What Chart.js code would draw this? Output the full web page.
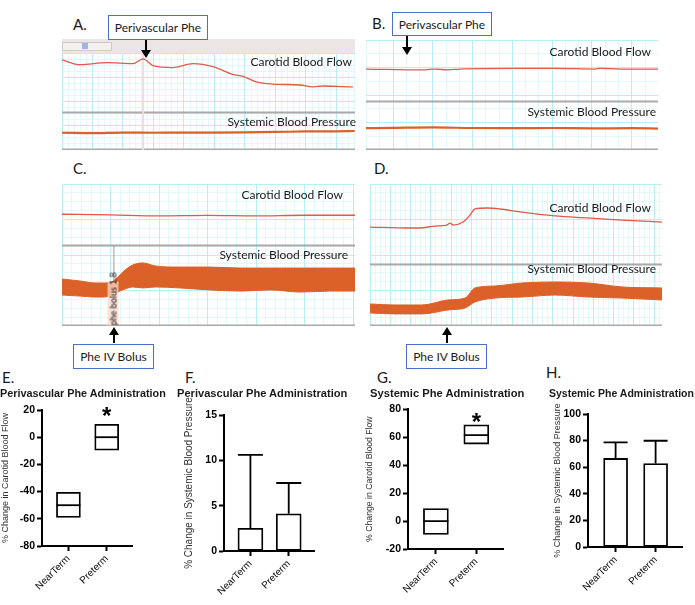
<!DOCTYPE html>
<html>
<head>
<meta charset="utf-8">
<script src="https://cdn.jsdelivr.net/npm/chart.js@4.4.1/dist/chart.umd.min.js"></script>
<style>
  body { margin: 0; background: #fff; }
  #fig { position: relative; width: 695px; height: 605px; overflow: hidden; font-family: Lato, sans-serif; color: #1a1a1a; }
  canvas { position: absolute; }
  .letter { position: absolute; font-size: 15px; line-height: 16px; }
  .trace { position: absolute; font-size: 12px; line-height: 16px; white-space: nowrap; text-align: right; }
  .callout { position: absolute; box-sizing: border-box; border: 1.5px solid #4a72c4; background: #fff; font-size: 12px;
             display: flex; align-items: center; justify-content: center; white-space: nowrap; }
  .title { position: absolute; font-family: "Liberation Sans", Arial, sans-serif; font-weight: bold; line-height: 14px; white-space: nowrap; }
  .bolus { position: absolute; font-size: 9px; line-height: 11px; white-space: nowrap; background: rgba(250,215,200,0.75);
           transform: rotate(-90deg); transform-origin: center center; text-align: center; }
</style>
</head>
<body>
<div id="fig">
  <!-- panel A scroll strip -->
  <div style="position:absolute;left:62px;top:39px;width:293px;height:14px;background:#ebe5e5"></div>
  <div style="position:absolute;left:62px;top:42px;width:48px;height:7px;border:1px solid #cfc9c9;background:#f3f0f0"></div>
  <div style="position:absolute;left:82px;top:43px;width:6px;height:6px;background:#a3b3e6"></div>

  <canvas id="cA" width="293" height="97" style="left:62px;top:53px"></canvas>
  <canvas id="cB" width="292" height="110" style="left:366px;top:40px"></canvas>
  <canvas id="cC" width="293" height="142" style="left:62px;top:184px"></canvas>
  <canvas id="cD" width="292" height="142" style="left:370px;top:184px"></canvas>

  <canvas id="cE" width="175" height="210" style="left:0px;top:395px"></canvas>
  <canvas id="cF" width="167" height="210" style="left:183px;top:395px"></canvas>
  <canvas id="cG" width="156" height="210" style="left:364px;top:395px"></canvas>
  <canvas id="cH" width="143" height="210" style="left:552px;top:395px"></canvas>

  <div class="letter" style="left:73px;top:16px">A.</div>
  <div class="letter" style="left:372px;top:15px">B.</div>
  <div class="letter" style="left:73px;top:160px">C.</div>
  <div class="letter" style="left:374px;top:160px">D.</div>
  <div class="letter" style="left:2px;top:369px">E.</div>
  <div class="letter" style="left:185px;top:369px">F.</div>
  <div class="letter" style="left:377px;top:369px">G.</div>
  <div class="letter" style="left:546px;top:364px">H.</div>

  <div class="trace" style="right:343px;top:54px">Carotid Blood Flow</div>
  <div class="trace" style="right:339px;top:114px">Systemic Blood Pressure</div>
  <div class="trace" style="right:44px;top:44px">Carotid Blood Flow</div>
  <div class="trace" style="right:39px;top:104px">Systemic Blood Pressure</div>
  <div class="trace" style="right:352px;top:187px">Carotid Blood Flow</div>
  <div class="trace" style="right:347px;top:247px">Systemic Blood Pressure</div>
  <div class="trace" style="right:44px;top:200px">Carotid Blood Flow</div>
  <div class="trace" style="right:39px;top:261px">Systemic Blood Pressure</div>

  <div class="callout" style="left:108px;top:15px;width:100px;height:25px">Perivascular Phe</div>
  <div class="callout" style="left:392px;top:12px;width:100px;height:24px">Perivascular Phe</div>
  <div class="callout" style="left:73px;top:344px;width:81px;height:25px">Phe IV Bolus</div>
  <div class="callout" style="left:406px;top:344px;width:81px;height:25px">Phe IV Bolus</div>

  <div class="bolus" style="left:91px;top:298px;width:44px;height:11px">phe bolus 1.8</div>

  <div class="title" style="left:0px;top:386px;font-size:10.8px">Perivascular Phe Administration</div>
  <div class="title" style="left:177px;top:386px;font-size:11.1px">Perivascular Phe Administration</div>
  <div class="title" style="left:370px;top:386px;font-size:11.2px">Systemic Phe Administration</div>
  <div class="title" style="left:549px;top:386px;font-size:10.5px">Systemic Phe Administration</div>

  <svg width="695" height="605" style="position:absolute;left:0;top:0;pointer-events:none">
    <g stroke="#000" stroke-width="2" fill="#000">
      <line x1="146" y1="40" x2="146" y2="50"/><polygon points="141,50 151,50 146,58" stroke="none"/>
      <line x1="407" y1="36" x2="407" y2="47"/><polygon points="402,47 412,47 407,55" stroke="none"/>
      <line x1="114" y1="343" x2="114" y2="335"/><polygon points="109,335 119,335 114,327" stroke="none"/>
      <line x1="447" y1="343" x2="447" y2="335"/><polygon points="442,335 452,335 447,327" stroke="none"/>
    </g>
  </svg>
</div>

<script>
// ---- trace recordings (time in s, signal in % of panel height) ----
const timeA = [0, 5.9, 14.8, 23.3, 26.6, 29.8, 36.4, 43, 49.5, 56, 59.3, 64, 69, 78, 82.3, 85.6, 95.4];
const flowA = [93, 88, 90, 89, 94, 87, 85, 89, 86, 78, 76, 70, 68, 67, 65, 66, 65];
const pressTimeA = [0, 10, 20, 30, 40, 50, 60, 70, 80, 90, 96];
const pressA = [17.8, 17.4, 18.0, 17.8, 18.0, 18.0, 18.2, 18.6, 19.1, 19.3, 19.6];

const timeB = [-6.8, 8, 10.5, 13.8, 16.8, 30.6, 40.7, 50.8, 52, 57, 66.6];
const flowB = [73.6, 72.8, 73.6, 72.8, 73.6, 74.2, 74.2, 73.6, 74.2, 73.6, 73.6];
const pressTimeB = [-6.8, 0, 10, 20, 30, 40, 50, 60, 66.6];
const pressB = [19.8, 20.1, 20.5, 20.0, 19.9, 20.0, 19.7, 19.8, 19.5];

const timeC = [0, 10, 20, 30, 40, 50, 60.4];
const flowC = [78.7, 78.2, 77.5, 77.9, 77.5, 78.0, 78.0];
const pressTimeC = [0, 3.7, 6.8, 8.7, 10.3, 11.5, 13, 14.6, 16.7, 19.2, 24.3, 30.5, 36.7, 42.9, 49.1, 55.3, 60.4];
const pressHighC = [33.1, 31.7, 30.3, 30.3, 31.0, 34.5, 39.4, 43.0, 44.4, 42.3, 41.5, 41.5, 40.8, 40.8, 40.8, 40.8, 40.8];
const pressLowC = [21.8, 21.1, 20.4, 20.4, 21.8, 23.9, 26.1, 27.5, 26.8, 27.5, 26.8, 25.4, 24.6, 25.4, 23.9, 24.6, 24.6];

const timeD = [0, 18.7, 24.6, 32, 37.9, 39.4, 40.9, 45.8, 49.3, 51.7, 57.6, 64, 73.9, 91.1, 107.4, 124.1, 143.8];
const flowD = [69.7, 69.0, 69.0, 70.4, 71.1, 72.5, 71.1, 73.2, 78.2, 82.4, 83.1, 82.4, 80.3, 77.5, 76.1, 74.6, 73.2];
const pressTimeD = [0, 12.3, 25.6, 38.4, 46.8, 51.7, 61.6, 74.9, 91.1, 107.4, 124.1, 143.8];
const pressHighD = [15.5, 14.8, 14.8, 18.3, 19.7, 26.8, 28.2, 30.3, 31.0, 30.3, 27.5, 26.8];
const pressLowD = [9.2, 8.5, 8.5, 11.3, 12.7, 16.9, 19.7, 20.4, 21.8, 20.4, 19.7, 18.3];

// ---- summary data ----
const groups = ['NearTerm', 'Preterm'];
const lowE = [-59, -9.5], highE = [-40.5, 9.5], medE = [-50, 0], starE = [null, 19.5];
const meanF = [2.5, 4.1], errF = [10.6, 7.5];
const lowG = [-9.6, 55.1], highG = [8.9, 68.9], medG = [-0.1, 61.5], starG = [null, 75];
const meanH = [66.6, 62.8], errH = [78.6, 79.9];

const FLOW = '#e0594b', PRESS = '#dc6128', MAJOR = '#b8eef5', MINOR = '#e3f8fb';

const pts = (t, v) => t.map((x, i) => ({ x, y: v[i] }));

const guides = {
  id: 'guides',
  beforeDatasetsDraw(chart, args, o) {
    const { ctx, chartArea: a, scales: { x, y } } = chart;
    ctx.save();
    (o.h || []).forEach(v => {
      const py = Math.round(y.getPixelForValue(v)) + 0.5;
      ctx.strokeStyle = '#a9a9a9'; ctx.lineWidth = 2;
      ctx.beginPath(); ctx.moveTo(a.left, py); ctx.lineTo(a.right, py); ctx.stroke();
    });
    (o.v || []).forEach(m => {
      const px = x.getPixelForValue(m.t);
      ctx.strokeStyle = m.color; ctx.lineWidth = m.width;
      ctx.beginPath(); ctx.moveTo(px, y.getPixelForValue(m.from)); ctx.lineTo(px, y.getPixelForValue(m.to)); ctx.stroke();
    });
    ctx.restore();
  }
};

function gridAxis(axis, min, max, step, color, z) {
  return {
    type: 'linear', axis, min, max, z,
    ticks: { display: false, stepSize: step, includeBounds: false },
    grid: { color, drawTicks: false, lineWidth: 1 },
    border: { display: false },
    afterFit: s => { if (axis === 'x') s.height = 0; else s.width = 0; }
  };
}

function traceChart(id, o) {
  const ds = [];
  ds.push({ data: pts(o.ft, o.flow), borderColor: FLOW, borderWidth: 1.3 });
  if (o.press) ds.push({ data: pts(o.pt, o.press), borderColor: PRESS, borderWidth: 2.2 });
  if (o.hi) {
    ds.push({ data: pts(o.pt, o.hi), borderColor: PRESS, borderWidth: 1, fill: false });
    ds.push({ data: pts(o.pt, o.lo), borderColor: PRESS, borderWidth: 1, fill: '-1', backgroundColor: PRESS });
  }
  ds.forEach(d => { d.pointRadius = 0; d.cubicInterpolationMode = 'monotone'; });
  new Chart(document.getElementById(id), {
    type: 'line',
    data: { datasets: ds },
    options: {
      responsive: false, animation: false, events: [],
      layout: { padding: 0 },
      plugins: { legend: { display: false }, tooltip: { enabled: false }, guides: { h: o.lines, v: o.marks } },
      scales: {
        xm: gridAxis('x', o.t0, o.t1, o.xMinor, MINOR, -2),
        ym: gridAxis('y', 0, 100, o.yMinor, MINOR, -2),
        x: gridAxis('x', o.t0, o.t1, o.xMajor, MAJOR, -1),
        y: gridAxis('y', 0, 100, o.yMajor, MAJOR, -1)
      }
    },
    plugins: [guides]
  });
}

traceChart('cA', { ft: timeA, flow: flowA, pt: pressTimeA, press: pressA, t0: 0, t1: 96.1,
  xMajor: 10, xMinor: 2, yMajor: 25, yMinor: 6.25, lines: [39.2, 1],
  marks: [{ t: 26.6, from: 100, to: 0, color: '#e6e0e0', width: 2 }] });
traceChart('cB', { ft: timeB, flow: flowB, pt: pressTimeB, press: pressB, t0: -6.8, t1: 66.6,
  xMajor: 10, xMinor: 10 / 3, yMajor: 25, yMinor: 12.5, lines: [44.5, 1] });
traceChart('cC', { ft: timeC, flow: flowC, pt: pressTimeC, hi: pressHighC, lo: pressLowC, t0: 0, t1: 60.4,
  xMajor: 10, xMinor: 2, yMajor: 25, yMinor: 6.25, lines: [57, 1],
  marks: [{ t: 10.7, from: 57, to: 0, color: '#9a9a9a', width: 1 }] });
traceChart('cD', { ft: timeD, flow: flowD, pt: pressTimeD, hi: pressHighD, lo: pressLowD, t0: 0, t1: 143.8,
  xMajor: 10, xMinor: 2.5, yMajor: 25, yMinor: 6.25, lines: [43.7, 1] });

// ---- summary panels ----
const marks = {
  id: 'marks',
  afterDatasetsDraw(chart, args, o) {
    const { ctx, scales: { y } } = chart;
    const bars = chart.getDatasetMeta(0).data;
    ctx.save();
    ctx.strokeStyle = '#000'; ctx.lineWidth = 1.8;
    (o.err || []).forEach((v, i) => {
      const b = bars[i], py = y.getPixelForValue(v);
      ctx.beginPath();
      ctx.moveTo(b.x, b.y); ctx.lineTo(b.x, py);
      ctx.moveTo(b.x - b.width / 2, py); ctx.lineTo(b.x + b.width / 2, py);
      ctx.stroke();
    });
    ctx.fillStyle = '#000'; ctx.textAlign = 'center'; ctx.textBaseline = 'middle';
    ctx.font = 'bold 24px "Liberation Sans", Arial, sans-serif';
    (o.star || []).forEach((v, i) => {
      if (v == null) return;
      ctx.fillText('*', bars[i].x, y.getPixelForValue(v) + 7);
    });
    ctx.restore();
  }
};

function statChart(id, o) {
  const ds = [{
    type: 'bar', order: 2,
    data: (o.low ? o.low.map((v, i) => [v, o.high[i]]) : o.mean).map((v, i) => ({ x: i, y: v })),
    backgroundColor: '#fff', borderColor: '#000', borderWidth: 1.8, borderSkipped: false,
    barThickness: o.bw
  }];
  if (o.med) ds.push({
    type: 'line', order: 1, data: o.med.map((v, i) => ({ x: i, y: v })), showLine: false, pointStyle: 'line',
    pointRadius: o.bw / 2, pointBorderColor: '#000', pointBorderWidth: 1.8
  });
  const fam = '"Liberation Sans", Arial, sans-serif';
  new Chart(document.getElementById(id), {
    type: 'bar',
    data: { datasets: ds },
    options: {
      responsive: false, animation: false, events: [],
      layout: { padding: { top: o.pt, right: o.pr, left: 0, bottom: 0 } },
      plugins: { legend: { display: false }, tooltip: { enabled: false }, marks: { err: o.err, star: o.star } },
      scales: {
        x: {
          type: 'linear', min: -0.69, max: 1.66, offset: false,
          ticks: { stepSize: 1, includeBounds: false, callback: v => groups[v], color: '#111',
                   font: { family: fam, size: 10 }, minRotation: 45, maxRotation: 45, padding: 2 },
          grid: { offset: false, drawOnChartArea: false, tickLength: 5, tickWidth: 2, tickColor: '#000' },
          border: { color: '#000', width: 2 },
          afterFit: s => { s.height = o.xh; }
        },
        y: {
          min: o.min, max: o.max,
          ticks: { stepSize: o.step, color: '#000', font: { family: fam, size: o.ts, weight: 'bold' }, padding: 2 },
          grid: { drawOnChartArea: false, tickLength: 5, tickWidth: 2, tickColor: '#000' },
          border: { color: '#000', width: 2 },
          title: { display: true, text: o.title, color: '#333', font: { family: fam, size: o.tfs }, padding: { top: 0, bottom: 0 } },
          afterFit: s => { s.width = o.yw; }
        }
      }
    },
    plugins: [marks]
  });
}

statChart('cE', { low: lowE, high: highE, med: medE, star: starE, min: -80, max: 20, step: 20, bw: 24,
  title: '% Change in Carotid Blood Flow', tfs: 9, ts: 10.5, yw: 42, xh: 59, pt: 15, pr: 43 });
statChart('cF', { mean: meanF, err: errF, min: 0, max: 15, step: 5, bw: 25,
  title: '% Change in Systemic Blood Pressure', tfs: 10, ts: 10.5, yw: 41, xh: 54, pt: 20, pr: 36 });
statChart('cG', { low: lowG, high: highG, med: medG, star: starG, min: -20, max: 80, step: 20, bw: 25,
  title: '% Change in Carotid Blood Flow', tfs: 8.7, ts: 10.5, yw: 44, xh: 56, pt: 13, pr: 17 });
statChart('cH', { mean: meanH, err: errH, min: 0, max: 100, step: 20, bw: 24,
  title: '% Change in Systemic Blood Pressure', tfs: 9, ts: 10.5, yw: 36, xh: 58, pt: 19, pr: 13 });
</script>
</body>
</html>
